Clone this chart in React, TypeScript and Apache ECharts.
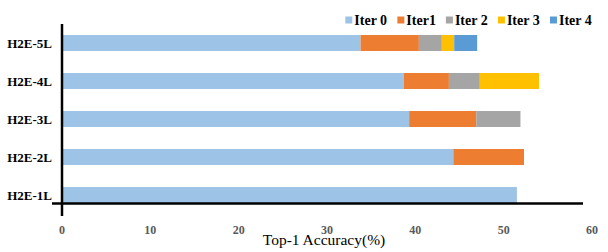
import React, { useEffect, useRef } from "react";
import * as echarts from "echarts";

const categories = ["H2E-1L", "H2E-2L", "H2E-3L", "H2E-4L", "H2E-5L"];
const seriesNames = ["Iter 0", "Iter1", "Iter 2", "Iter 3", "Iter 4"];
const iter0 = [51.5, 44.3, 39.3, 38.7, 33.8];
const iter1 = [null, 8.0, 7.6, 5.1, 6.6];
const iter2 = [null, null, 5.0, 3.5, 2.6];
const iter3 = [null, null, null, 6.7, 1.4];
const iter4 = [null, null, null, null, 2.6];
const xTicks = { min: 0, max: 60, interval: 10 };
const colors = ["#9DC3E6", "#ED7D31", "#A5A5A5", "#FFC000", "#5B9BD5"];

export default function App() {
  const ref = useRef<HTMLDivElement>(null);
  useEffect(() => {
    document.body.style.margin = "0";
    const chart = echarts.init(ref.current!, null, { renderer: "svg" });
    const values = [iter0, iter1, iter2, iter3, iter4];
    chart.setOption({
      animation: false,
      color: colors,
      legend: {
        top: 8,
        right: 11,
        itemWidth: 7,
        itemHeight: 7,
        itemGap: 10,
        icon: "rect",
        textStyle: {
          fontFamily: "Liberation Serif",
          fontWeight: "bold",
          fontSize: 14,
          color: "#000",
          padding: [0, 0, 0, -3],
        },
        data: seriesNames,
      },
      grid: { left: 62, right: 16, top: 24, bottom: 38, containLabel: false, outerBoundsMode: "none" },
      xAxis: {
        type: "value",
        min: xTicks.min,
        max: xTicks.max,
        interval: xTicks.interval,
        axisLine: { show: false },
        axisTick: { show: false },
        splitLine: { show: false },
        axisLabel: {
          margin: 10,
          fontFamily: "Liberation Serif",
          fontWeight: "bold",
          fontSize: 12,
          color: "#595959",
        },
        name: "Top-1 Accuracy(%)",
        nameLocation: "middle",
        nameGap: 17,
        nameMoveOverlap: false,
        nameTextStyle: {
          fontFamily: "Liberation Serif",
          fontSize: 15.5,
          color: "#000",
          padding: [0, 0, 0, -6],
        },
      },
      yAxis: {
        type: "category",
        data: categories,
        axisLine: { show: false },
        axisTick: { show: false },
        axisLabel: {
          margin: 10,
          fontFamily: "Liberation Serif",
          fontWeight: "bold",
          fontSize: 13,
          color: "#000",
        },
      },
      graphic: [
        {
          type: "line",
          shape: { x1: 62, y1: 24, x2: 62, y2: 216 },
          style: { stroke: "#000", lineWidth: 2.5 },
          z: 10,
        },
        {
          type: "line",
          shape: { x1: 52, y1: 203.5, x2: 583, y2: 203.5 },
          style: { stroke: "#000", lineWidth: 2.5 },
          z: 10,
        },
      ],
      series: seriesNames.map((name, i) => ({
        name,
        type: "bar",
        stack: "total",
        barWidth: 16,
        data: values[i],
        itemStyle: { color: colors[i] },
      })),
    });
    return () => chart.dispose();
  }, []);
  return <div ref={ref} style={{ width: 608, height: 252 }} />;
}
